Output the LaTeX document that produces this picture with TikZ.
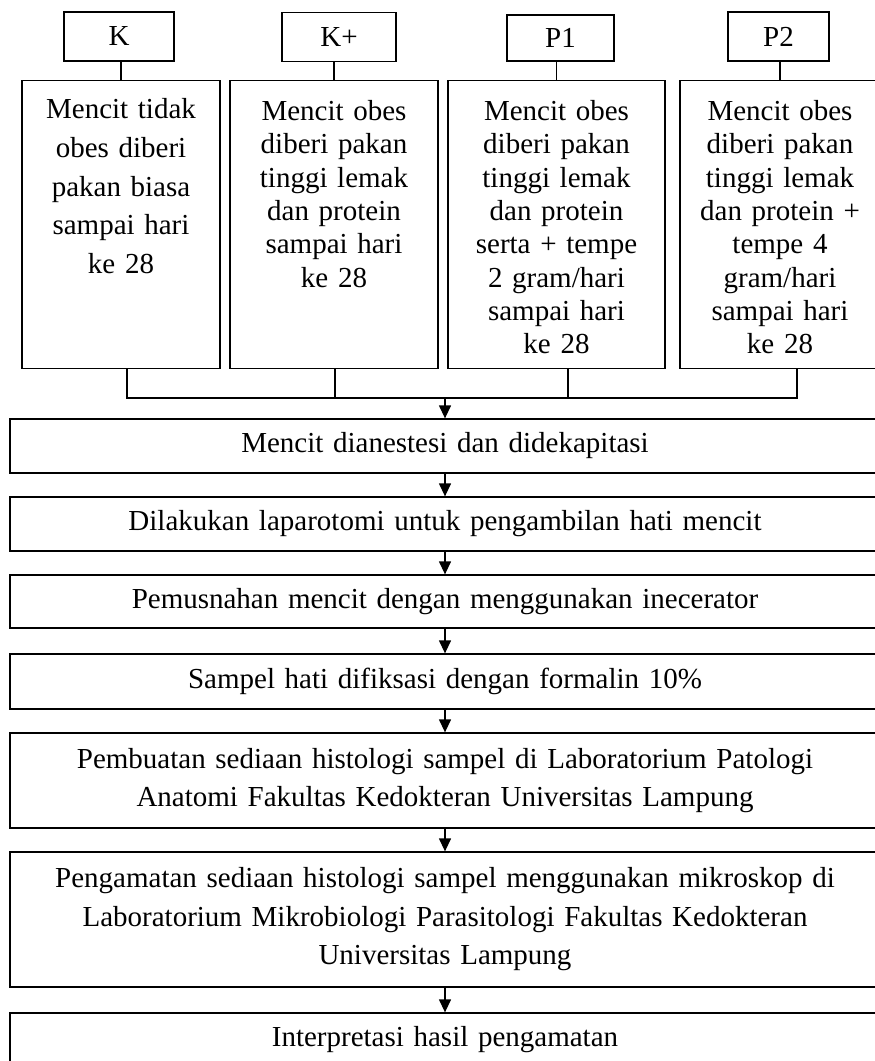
\documentclass[tikz,border=0pt]{standalone}
\usepackage{fontspec}
\setmainfont{Liberation Serif}
\usetikzlibrary{arrows.meta,positioning}

\begin{document}
\begin{tikzpicture}[
      x=1pt, y=-1pt, line width=1.3pt,
      >={Triangle[length=13pt,width=12pt]},
      tag/.style={draw, inner sep=0pt, minimum height=49pt, font=\fontsize{29}{38.5}\selectfont},
      grp/.style={draw, anchor=north, inner xsep=4pt, inner ysep=0pt, text height=40pt, text depth=248pt, align=center, font=\fontsize{29}{33.3}\selectfont},
      stp/.style={draw, minimum width=870pt, inner xsep=5pt, inner ysep=0pt, text width=860pt, align=center, font=\fontsize{29}{38.5}\selectfont}]
    \useasboundingbox (0,0) rectangle (875,1061);
    % Group labels
    \node[tag, minimum width=110pt] (k)  at (119,36.5)  {K};
    \node[tag, minimum width=114pt] (kp) at (339,37)    {K+};
    \node[tag, minimum width=107pt, minimum height=46pt] (p1) at (560.5,38) {P1};
    \node[tag, minimum width=101pt] (p2) at (778.5,36.5) {P2};
    % Groups
    \node[grp, text width=190pt, text height=38pt, text depth=250pt, font=\fontsize{29}{38.7}\selectfont] (kbox) at (121,80) {Mencit tidak\\obes diberi\\pakan biasa\\sampai hari\\ke 28};
    \node[grp, text width=200pt] (kpbox) at (334,80)   {Mencit obes\\diberi pakan\\tinggi lemak\\dan protein\\sampai hari\\ke 28};
    \node[grp, text width=209pt] (p1box) at (556.5,80) {Mencit obes\\diberi pakan\\tinggi lemak\\dan protein\\serta + tempe\\2 gram/hari\\sampai hari\\ke 28};
    \node[grp, text width=192pt] (p2box) at (780,80)   {Mencit obes\\diberi pakan\\tinggi lemak\\dan protein +\\tempe 4\\gram/hari\\sampai hari\\ke 28};
    % Procedure
    \node[stp, minimum height=54pt]  (s1) at (445,446)   {Mencit dianestesi dan didekapitasi};
    \node[stp, minimum height=54pt]  (s2) at (445,524)   {Dilakukan laparotomi untuk pengambilan hati mencit};
    \node[stp, minimum height=53pt]  (s3) at (445,601.5) {Pemusnahan mencit dengan menggunakan inecerator};
    \node[stp, minimum height=55pt]  (s4) at (445,681.5) {Sampel hati difiksasi dengan formalin 10\%};
    \node[stp, minimum height=95pt]  (s5) at (445,780.5) {Pembuatan sediaan histologi sampel di Laboratorium Patologi\\Anatomi Fakultas Kedokteran Universitas Lampung};
    \node[stp, minimum height=135pt] (s6) at (445,919.5) {Pengamatan sediaan histologi sampel menggunakan mikroskop di\\Laboratorium Mikrobiologi Parasitologi Fakultas Kedokteran\\Universitas Lampung};
    \node[stp, minimum height=54pt]  (s7) at (445,1040)  {Interpretasi hasil pengamatan};
    % Lines
    \draw (kbox.north)  -- (kbox.north |- k.south);
    \draw (kpbox.north) -- (kpbox.north |- kp.south);
    \draw (p1box.north) -- (p1box.north |- p1.south);
    \draw (p2box.north) -- (p2box.north |- p2.south);
    \coordinate (jn) at (445,398);
    \draw ([xshift=6pt]kbox.south) |- (jn);
    \draw ([xshift=1pt]kpbox.south) -- ([xshift=1pt]kpbox.south |- jn);
    \draw ([xshift=11.5pt]p1box.south) |- (jn);
    \draw ([xshift=17pt]p2box.south) |- (jn);
    \draw[->] (jn) -- (s1);
    \draw[->] (s1) -- (s2);
    \draw[->] (s2) -- (s3);
    \draw[->] (s3) -- (s4);
    \draw[->] (s4) -- (s5);
    \draw[->] (s5) -- (s6);
    \draw[->] (s6) -- (s7);
  \end{tikzpicture}
\end{document}
